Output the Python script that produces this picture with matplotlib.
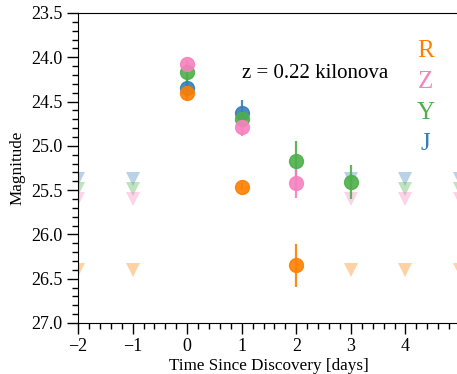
import matplotlib
matplotlib.use("Agg")
import matplotlib.pyplot as plt
from matplotlib.ticker import MultipleLocator

plt.rcParams["font.family"] = ["Liberation Serif", "DejaVu Serif"]
plt.rcParams["mathtext.fontset"] = "stix"

# ── data ─────────────────────────────────────────────
bands = ["J", "Y", "Z", "R"]
colors = {"R": "#ff7f00", "Z": "#f781bf", "Y": "#4daf4a", "J": "#377eb8"}

det_t = {
    "R": [0, 1, 2],
    "Z": [0, 1, 2],
    "Y": [0, 1, 2, 3],
    "J": [0, 1],
}
det_mag = {
    "R": [24.40, 25.46, 26.35],
    "Z": [24.08, 24.79, 25.42],
    "Y": [24.17, 24.70, 25.17, 25.41],
    "J": [24.35, 24.63],
}
det_err = {
    "R": [0.03, 0.04, 0.24],
    "Z": [0.05, 0.10, 0.17],
    "Y": [0.10, 0.08, 0.22, 0.19],
    "J": [0.13, 0.15],
}
lim_t = {
    "R": [-2, -1, 3, 4, 5],
    "Z": [-2, -1, 3, 4, 5],
    "Y": [-2, -1, 4, 5],
    "J": [-2, -1, 3, 4, 5],
}
lim_mag = {"R": 26.40, "Z": 25.60, "Y": 25.49, "J": 25.37}

label_order = ["R", "Z", "Y", "J"]

# ── plot ─────────────────────────────────────────────
fig = plt.figure(figsize=(4.57, 3.74), dpi=100)
ax = fig.add_axes([0.1707, 0.1364, 0.836, 0.8289])

for b in bands:
    ax.errorbar(det_t[b], det_mag[b], yerr=det_err[b], fmt="o",
                color=colors[b], ms=10, elinewidth=1.6, capsize=0,
                alpha=0.9, zorder=3)
    ax.plot(lim_t[b], [lim_mag[b]] * len(lim_t[b]), "v", color=colors[b],
            ms=10, alpha=0.35, markeredgewidth=0, zorder=2)

ax.text(1.0, 24.18, "z = 0.22 kilonova", fontsize=15, va="center")
for i, b in enumerate(label_order):
    ax.text(4.37, 23.93 + 0.35 * i, b, color=colors[b], fontsize=18,
            ha="center", va="center")

ax.set_xlim(-2, 5)
ax.set_ylim(27.0, 23.5)
ax.xaxis.set_major_locator(MultipleLocator(1))
ax.xaxis.set_minor_locator(MultipleLocator(0.2))
ax.yaxis.set_major_locator(MultipleLocator(0.5))
ax.yaxis.set_minor_locator(MultipleLocator(0.1))
ax.tick_params(which="major", direction="out", length=8, width=1,
               labelsize=13, pad=3)
ax.tick_params(which="minor", direction="out", length=4, width=1)
ax.set_xlabel("Time Since Discovery [days]", fontsize=12.3, labelpad=2)
ax.set_ylabel("Magnitude", fontsize=12.3, labelpad=4)

fig.savefig("out.png", dpi=100)
